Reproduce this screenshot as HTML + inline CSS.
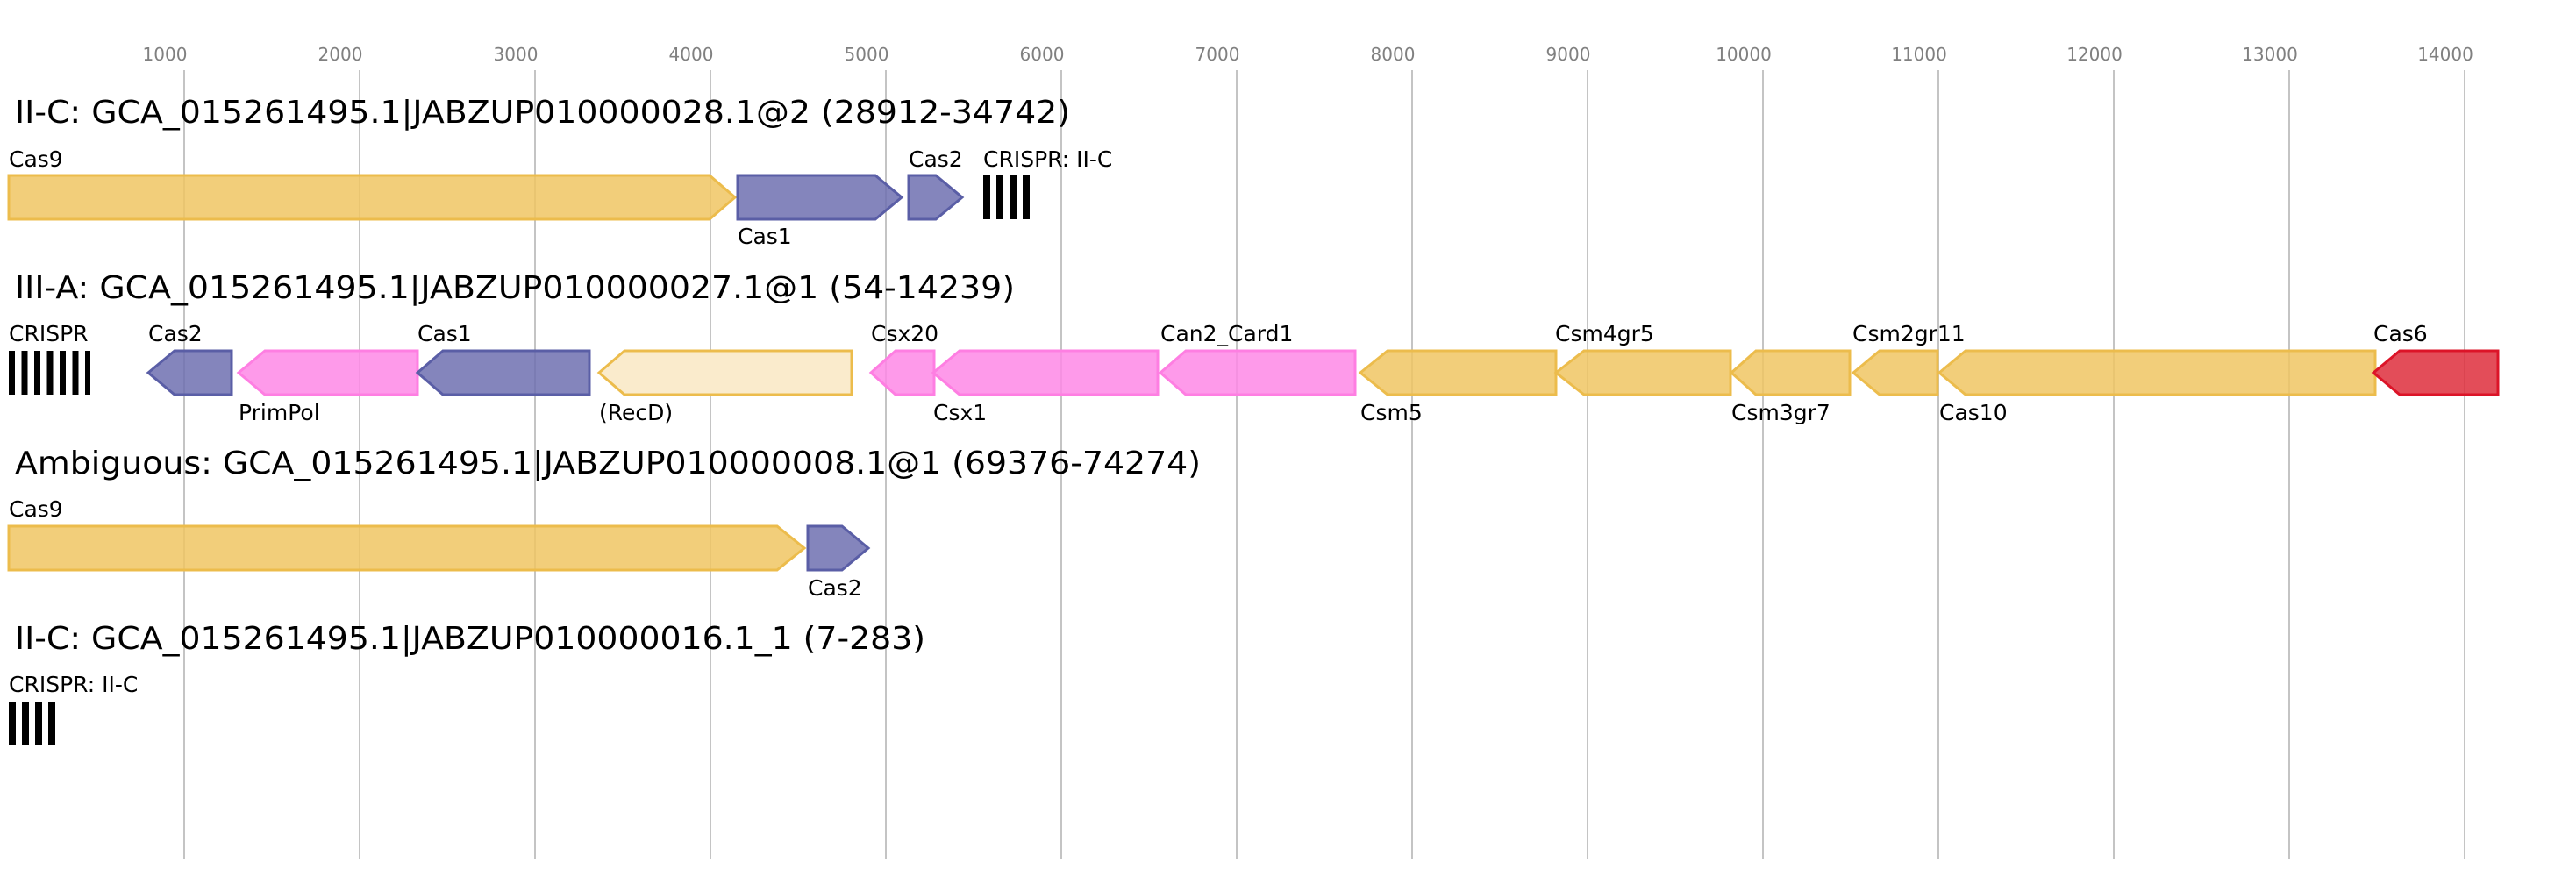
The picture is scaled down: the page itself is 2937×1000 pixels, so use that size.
<!DOCTYPE html>
<html><head><meta charset="utf-8"><style>html,body{margin:0;padding:0;background:#fff}svg{display:block}text{font-family:"DejaVu Sans","Liberation Sans",sans-serif}</style></head>
<body>
<svg width="2937" height="1000" viewBox="0 0 2937 1000" xmlns="http://www.w3.org/2000/svg">
<g stroke="#c4c4c4" stroke-width="2">
<line x1="210" y1="80" x2="210" y2="980"/><line x1="410" y1="80" x2="410" y2="980"/><line x1="610" y1="80" x2="610" y2="980"/><line x1="810" y1="80" x2="810" y2="980"/><line x1="1010" y1="80" x2="1010" y2="980"/><line x1="1210" y1="80" x2="1210" y2="980"/><line x1="1410" y1="80" x2="1410" y2="980"/><line x1="1610" y1="80" x2="1610" y2="980"/><line x1="1810" y1="80" x2="1810" y2="980"/><line x1="2010" y1="80" x2="2010" y2="980"/><line x1="2210" y1="80" x2="2210" y2="980"/><line x1="2410" y1="80" x2="2410" y2="980"/><line x1="2610" y1="80" x2="2610" y2="980"/><line x1="2810" y1="80" x2="2810" y2="980"/>
</g>
<g fill="#808080" font-size="20" text-anchor="middle">
<text x="188" y="69">1000</text><text x="388" y="69">2000</text><text x="588" y="69">3000</text><text x="788" y="69">4000</text><text x="988" y="69">5000</text><text x="1188" y="69">6000</text><text x="1388" y="69">7000</text><text x="1588" y="69">8000</text><text x="1788" y="69">9000</text><text x="1988" y="69">10000</text><text x="2188" y="69">11000</text><text x="2388" y="69">12000</text><text x="2588" y="69">13000</text><text x="2788" y="69">14000</text>
</g>
<g font-size="36" fill="#000">
<text x="17" y="140" textLength="1203" lengthAdjust="spacingAndGlyphs">II-C: GCA_015261495.1|JABZUP010000028.1@2 (28912-34742)</text>
<text x="17" y="340" textLength="1140" lengthAdjust="spacingAndGlyphs">III-A: GCA_015261495.1|JABZUP010000027.1@1 (54-14239)</text>
<text x="17" y="540" textLength="1352" lengthAdjust="spacingAndGlyphs">Ambiguous: GCA_015261495.1|JABZUP010000008.1@1 (69376-74274)</text>
<text x="17" y="740" textLength="1038" lengthAdjust="spacingAndGlyphs">II-C: GCA_015261495.1|JABZUP010000016.1_1 (7-283)</text>
</g>
<g stroke-width="3" fill-opacity="0.85">
<polygon points="10,200 809,200 838,225 809,250 10,250" fill="#f0c663" stroke="#ecbc4c"/>
<polygon points="841,200 998,200 1028,225 998,250 841,250" fill="#6e70b0" stroke="#5a5ea6"/>
<polygon points="1036,200 1067,200 1097,225 1067,250 1036,250" fill="#6e70b0" stroke="#5a5ea6"/>
<polygon points="169,425 199,400 264,400 264,450 199,450" fill="#6e70b0" stroke="#5a5ea6"/>
<polygon points="272,425 302,400 476,400 476,450 302,450" fill="#fe88e6" stroke="#fe7ee2"/>
<polygon points="476,425 505,400 672,400 672,450 505,450" fill="#6e70b0" stroke="#5a5ea6"/>
<polygon points="683,425 712,400 971,400 971,450 712,450" fill="#faebcc" fill-opacity="1" stroke="#ecbc4c"/>
<polygon points="993,425 1021,400 1065,400 1065,450 1021,450" fill="#fe88e6" stroke="#fe7ee2"/>
<polygon points="1064,425 1094,400 1320,400 1320,450 1094,450" fill="#fe88e6" stroke="#fe7ee2"/>
<polygon points="1323,425 1352,400 1545,400 1545,450 1352,450" fill="#fe88e6" stroke="#fe7ee2"/>
<polygon points="1551,425 1582,400 1774,400 1774,450 1582,450" fill="#f0c663" stroke="#ecbc4c"/>
<polygon points="1774,425 1806,400 1973,400 1973,450 1806,450" fill="#f0c663" stroke="#ecbc4c"/>
<polygon points="1974,425 2002,400 2109,400 2109,450 2002,450" fill="#f0c663" stroke="#ecbc4c"/>
<polygon points="2113,425 2143,400 2209,400 2209,450 2143,450" fill="#f0c663" stroke="#ecbc4c"/>
<polygon points="2211,425 2241,400 2708,400 2708,450 2241,450" fill="#f0c663" stroke="#ecbc4c"/>
<polygon points="2706,425 2736,400 2848,400 2848,450 2736,450" fill="#de2e3c" stroke="#dc1428"/>
<polygon points="10,600 886,600 917,625 886,650 10,650" fill="#f0c663" stroke="#ecbc4c"/>
<polygon points="921,600 960,600 990,625 960,650 921,650" fill="#6e70b0" stroke="#5a5ea6"/>
</g>
<g fill="#000">
<rect x="1121" y="200" width="8" height="50"/><rect x="1136" y="200" width="8" height="50"/><rect x="1151" y="200" width="8" height="50"/><rect x="1166" y="200" width="8" height="50"/>
<rect x="10" y="400" width="7" height="50"/><rect x="24.5" y="400" width="7" height="50"/><rect x="39" y="400" width="7" height="50"/><rect x="53.5" y="400" width="7" height="50"/><rect x="68" y="400" width="7" height="50"/><rect x="82.5" y="400" width="7" height="50"/><rect x="97" y="400" width="6" height="50"/>
<rect x="10" y="800" width="8" height="50"/><rect x="25" y="800" width="8" height="50"/><rect x="40" y="800" width="8" height="50"/><rect x="55" y="800" width="8" height="50"/>
</g>
<g font-size="25" fill="#000">
<text x="10" y="190">Cas9</text><text x="1036" y="190">Cas2</text><text x="1121" y="190">CRISPR: II-C</text><text x="841" y="278">Cas1</text>
<text x="10" y="389">CRISPR</text><text x="169" y="389">Cas2</text><text x="476" y="389">Cas1</text><text x="993" y="389">Csx20</text><text x="1323" y="389">Can2_Card1</text><text x="1773" y="389">Csm4gr5</text><text x="2112" y="389">Csm2gr11</text><text x="2706" y="389">Cas6</text>
<text x="272" y="479">PrimPol</text><text x="683" y="479">(RecD)</text><text x="1064" y="479">Csx1</text><text x="1551" y="479">Csm5</text><text x="1974" y="479">Csm3gr7</text><text x="2211" y="479">Cas10</text>
<text x="10" y="589">Cas9</text><text x="921" y="679">Cas2</text>
<text x="10" y="789">CRISPR: II-C</text>
</g>
</svg>
</body></html>
